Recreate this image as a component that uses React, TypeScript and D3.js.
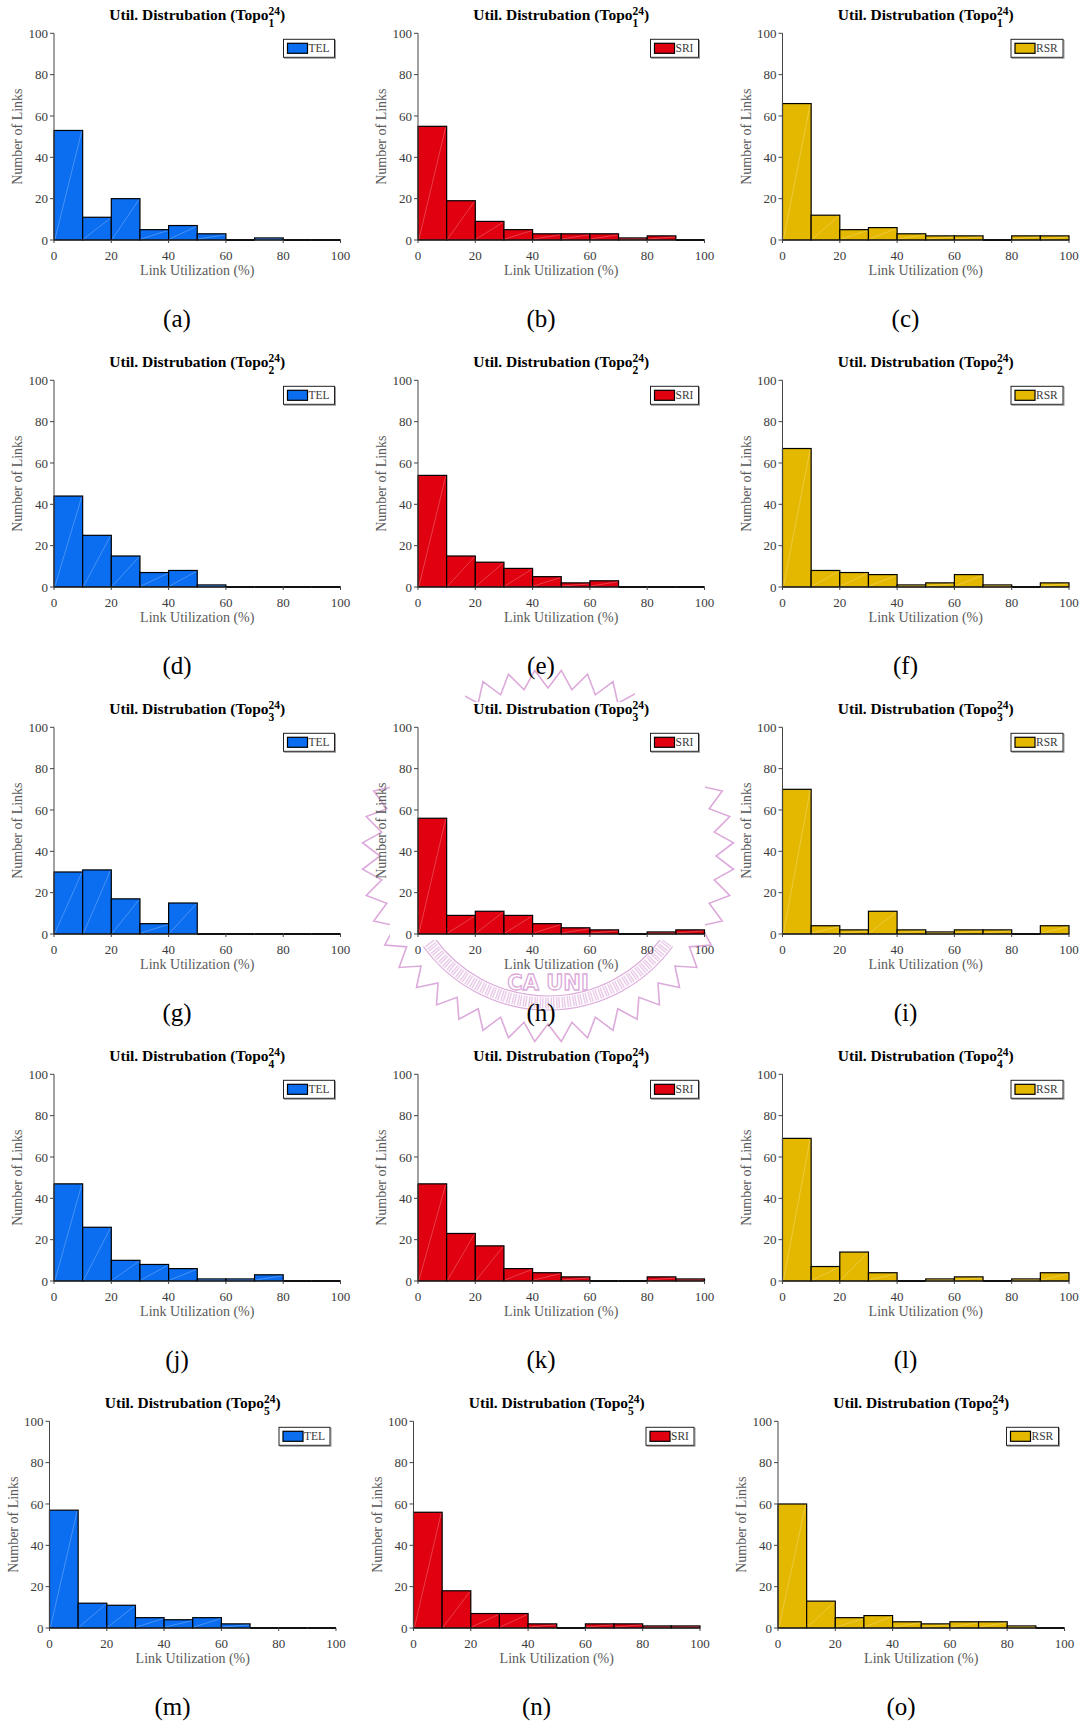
import React from 'react';
import * as d3 from 'd3';

// ---------- data ----------
const binEdges = [0, 10, 20, 30, 40, 50, 60, 70, 80, 90, 100];
const xTicks = [0, 20, 40, 60, 80, 100];
const yTicks = [0, 20, 40, 60, 80, 100];
const methods = ['TEL', 'SRI', 'RSR'];
const topoIds = ['1', '2', '3', '4', '5'];
const panelLetters = ['a', 'b', 'c', 'd', 'e', 'f', 'g', 'h', 'i', 'j', 'k', 'l', 'm', 'n', 'o'];

const telCounts = [
  [53, 11, 20, 5, 7, 3, 0, 1, 0, 0],
  [44, 25, 15, 7, 8, 1, 0, 0, 0, 0],
  [30, 31, 17, 5, 15, 0, 0, 0, 0, 0],
  [47, 26, 10, 8, 6, 1, 1, 3, 0, 0],
  [57, 12, 11, 5, 4, 5, 2, 0, 0, 0],
];
const sriCounts = [
  [55, 19, 9, 5, 3, 3, 3, 1, 2, 0],
  [54, 15, 12, 9, 5, 2, 3, 0, 0, 0],
  [56, 9, 11, 9, 5, 3, 2, 0, 1, 2],
  [47, 23, 17, 6, 4, 2, 0, 0, 2, 1],
  [56, 18, 7, 7, 2, 0, 2, 2, 1, 1],
];
const rsrCounts = [
  [66, 12, 5, 6, 3, 2, 2, 0, 2, 2],
  [67, 8, 7, 6, 1, 2, 6, 1, 0, 2],
  [70, 4, 2, 11, 2, 1, 2, 2, 0, 4],
  [69, 7, 14, 4, 0, 1, 2, 0, 1, 4],
  [60, 13, 5, 6, 3, 2, 3, 3, 1, 0],
];

// ---------- styles / layout ----------
const countsByMethod = [telCounts, sriCounts, rsrCounts];
const methodColors = ['#0b6ef0', '#e0000f', '#e5b800'];
const legendWidths = [51, 48, 52];
const colLeft = [54, 418, 782.5];
const rowTop0 = 33.3;
const rowStep = 347;
const plotW = 286.5;
const plotH = 206.7;
const FONT = '"Liberation Serif", "Times New Roman", serif';
const TICK_COLOR = '#3a3a3a';
const LABEL_COLOR = '#5a5a5a';
const WM = '#dcaadb';

function Panel({ r, c }: { r: number; c: number }) {
  const offX = r === 4 ? -4.5 : 0;
  const left = colLeft[c] + offX;
  const top = rowTop0 + rowStep * r;
  const x = d3.scaleLinear().domain([0, 100]).range([left, left + plotW]);
  const y = d3.scaleLinear().domain([0, 100]).range([top + plotH, top]);
  const counts = countsByMethod[c][r];
  const color = methodColors[c];
  const cx = left + plotW / 2;
  const bottom = top + plotH;
  const lw = legendWidths[c];
  const lx = left + plotW - 6 - lw;
  const ly = top + 6;
  return (
    <g fontFamily={FONT}>
      <rect x={left} y={top} width={plotW} height={plotH} fill="#fff" />
      {/* title */}
      <text x={cx} y={top - 13} textAnchor="middle" fontWeight="bold" fontSize={15.5} fill="#000">
        Util. Distrubation (Topo
        <tspan dy={-5.5} fontSize={11.5}>24</tspan>
        <tspan dx={-11.5} dy={12.5} fontSize={11.5}>{topoIds[r]}</tspan>
        <tspan dx={5.75} dy={-7}>)</tspan>
      </text>
      {/* bars */}
      {counts.map((v, i) => {
        const x0 = x(binEdges[i]);
        const x1 = x(binEdges[i + 1]);
        const yt = y(v);
        if (v === 0) {
          return <line key={i} x1={x0} x2={x1} y1={bottom} y2={bottom} stroke="#000" strokeWidth={2} />;
        }
        return (
          <g key={i}>
            <rect x={x0} y={yt} width={x1 - x0} height={bottom - yt} fill={color} stroke="#000" strokeWidth={1.2} />
            <line x1={x0 + 1} y1={bottom - 1} x2={x1 - 1} y2={yt + 1} stroke="#fff" strokeOpacity={0.35} strokeWidth={0.7} />
          </g>
        );
      })}
      {/* axes */}
      <line x1={left} x2={left} y1={top} y2={bottom} stroke="#444" strokeWidth={1} />
      <line x1={left} x2={left + plotW} y1={bottom} y2={bottom} stroke="#222" strokeWidth={1} />
      {yTicks.map((t) => (
        <g key={'y' + t}>
          <line x1={left - 4} x2={left} y1={y(t)} y2={y(t)} stroke="#444" strokeWidth={1} />
          <text x={left - 6} y={y(t)} dy="0.35em" textAnchor="end" fontSize={13} fill={TICK_COLOR}>{t}</text>
        </g>
      ))}
      {xTicks.map((t) => (
        <g key={'x' + t}>
          <line x1={x(t)} x2={x(t)} y1={bottom} y2={bottom + 3} stroke="#444" strokeWidth={1} />
          <text x={x(t)} y={bottom + 20} textAnchor="middle" fontSize={13} fill={TICK_COLOR}>{t}</text>
        </g>
      ))}
      <text x={cx} y={bottom + 35} textAnchor="middle" fontSize={14} fill={LABEL_COLOR}>Link Utilization (%)</text>
      <text transform={`translate(${left - 32},${top + plotH / 2}) rotate(-90)`} textAnchor="middle" fontSize={14} fill={LABEL_COLOR}>Number of Links</text>
      {/* legend */}
      <rect x={lx + 1} y={ly + 1} width={lw} height={18} fill="none" stroke="#9a9a9a" strokeWidth={1} />
      <rect x={lx} y={ly} width={lw} height={18} fill="#fff" stroke="#222" strokeWidth={1} />
      <rect x={lx + 4} y={ly + 4} width={20} height={10} fill={color} stroke="#000" strokeWidth={1.2} />
      <text x={lx + 25} y={ly + 13} fontSize={11.5} fill={TICK_COLOR}>{methods[c]}</text>
      {/* sub label */}
      <text x={left + 123} y={bottom + 87} textAnchor="middle" fontSize={25} fill="#000">({panelLetters[r * 3 + c]})</text>
    </g>
  );
}

function Watermark() {
  const cxw = 548;
  const cyw = 856;
  const N = 44;
  const pts: [number, number][] = d3.range(2 * N).map((i) => [(i * Math.PI) / N, i % 2 ? 186 : 168]);
  const ring = d3.lineRadial().curve(d3.curveLinearClosed)(pts as any) || '';
  const mk = (rad: number) =>
    d3.arc()({ innerRadius: rad, outerRadius: rad, startAngle: Math.PI * 0.7, endAngle: Math.PI * 1.3 } as any) || '';
  return (
    <g>
      <defs>
        <clipPath id="wmclip">
          <rect x={465} y={660} width={170} height={42} />
          <rect x={345} y={782} width={45} height={160} />
          <rect x={705} y={782} width={40} height={160} />
          <rect x={380} y={940} width={340} height={110} />
        </clipPath>
      </defs>
      <g clipPath="url(#wmclip)">
        <g transform={`translate(${cxw},${cyw})`} fill="none" stroke={WM}>
          <path d={ring} strokeWidth={1.6} />
          <path d={mk(140)} strokeWidth={1.2} />
          <path d={mk(154)} strokeWidth={1.2} />
          <path d={mk(147)} strokeWidth={11} strokeDasharray="1.5 4" strokeOpacity={0.6} />
          <text x={0} y={134} textAnchor="middle" fontFamily='"DejaVu Sans", sans-serif' fontWeight="bold" fontSize={21} stroke={WM} strokeWidth={1.3} fill="none">CA UNI</text>
        </g>
      </g>
    </g>
  );
}

export default function App() {
  const cells: { r: number; c: number }[] = [];
  for (let r = 0; r < 5; r++) for (let c = 0; c < 3; c++) cells.push({ r, c });
  return (
    <svg width={1085} height={1726} style={{ position: 'absolute', left: 0, top: 0, display: 'block', background: '#fff' }}>
      <rect width={1085} height={1726} fill="#fff" />
      <Watermark />
      {cells.map(({ r, c }) => (
        <Panel key={r + '-' + c} r={r} c={c} />
      ))}
    </svg>
  );
}
